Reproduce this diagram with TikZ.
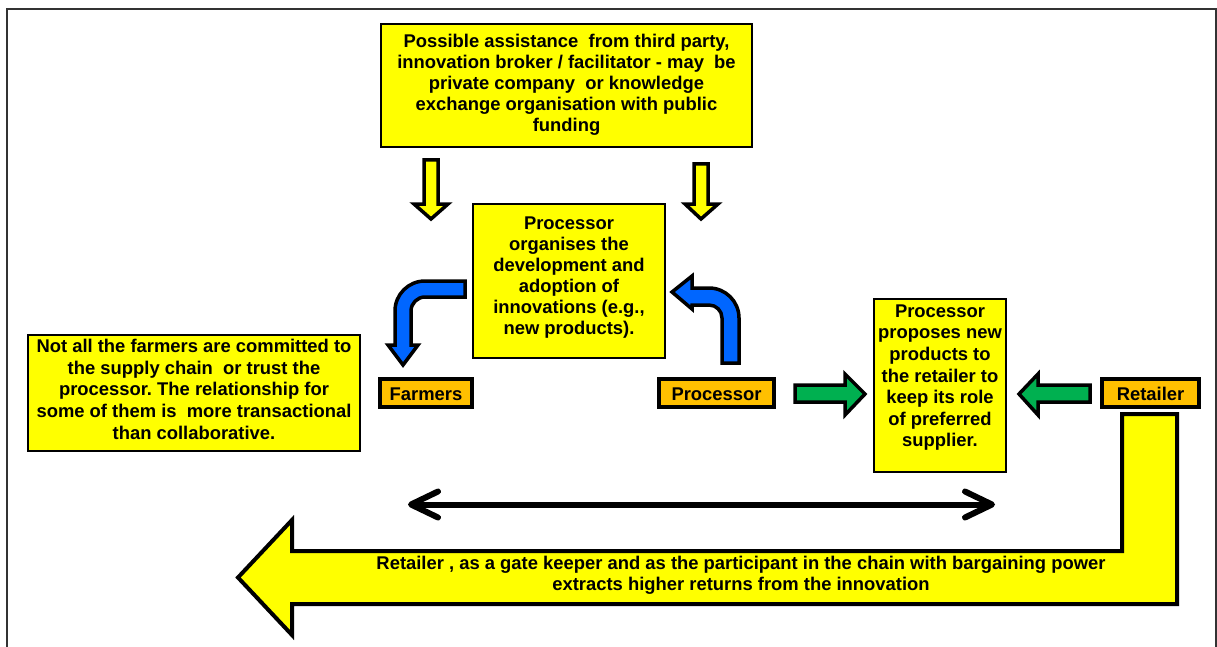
\documentclass[tikz,border=0pt]{standalone}
\usepackage{fontspec}
\setmainfont{Liberation Sans}
\usetikzlibrary{arrows.meta}
\definecolor{yfill}{HTML}{FFFF00}
\definecolor{ofill}{HTML}{FFC000}
\definecolor{bfill}{HTML}{0066FF}
\definecolor{gfill}{HTML}{00B050}
\definecolor{framec}{HTML}{333333}
\newcommand\bfs[1]{\fontsize{18.4}{#1}\selectfont\bfseries\frenchspacing}
\begin{document}
\begin{tikzpicture}[x=1pt,y=-1pt,
  thinbox/.style={draw=black,fill=yfill,line width=2pt,inner sep=0pt,outer sep=0pt},
  labelbox/.style={draw=black,fill=ofill,line width=3.8pt,inner sep=0pt,outer sep=0pt,
    font=\bfs{21.4},text height=14pt,text depth=0pt},
  txt/.style={inner sep=0pt,outer sep=0pt,align=center},
  blockarrow/.style={draw=black,line width=3.5pt,line join=miter},
  dblarrow/.style={line width=6pt,{Straight Barb[length=27pt,width=26pt,round]}-{Straight Barb[length=27pt,width=26pt,round]}}
]
\useasboundingbox (0,0) rectangle (1217,647);
% frame
\draw[framec,line width=1.5pt] (7,647) -- (7,9) -- (1216,9) -- (1216,647);

% boxes
\node[thinbox,minimum width=371pt,minimum height=123pt] (topbox) at (566.5,85.5) {};
\node[txt,font=\bfs{21.1}] (toptext) at (566.5,85.3) {\strut Possible assistance\ \ from third party,\\
innovation broker / facilitator - may\ \ be\\
private company\ \ or knowledge\\
exchange organisation with public\\
funding\strut};

\node[thinbox,minimum width=192pt,minimum height=154pt] (procbox) at (569,281) {};
\node[txt,font=\bfs{21.1}] (proctext) at (569,277.8) {\strut Processor\\
organises the\\
development and\\
adoption of\\
innovations (e.g.,\\
new products).\strut};

\node[thinbox,minimum width=132pt,minimum height=173pt] (propbox) at (940,385.5) {};
\node[txt,font=\bfs{21.6}] (proptext) at (940,377.8) {\strut Processor\\
proposes new\\
products to\\
the retailer to\\
keep its role\\
of preferred\\
supplier.\strut};

\node[thinbox,minimum width=332pt,minimum height=116pt] (notebox) at (194,393) {};
\node[txt,font=\bfs{21.6}] (notetext) at (194,391.6) {\strut Not all the farmers are committed to\\
the supply chain\ \ or trust the\\
processor. The relationship for\\
some of them is\ \ more transactional\\
than collaborative.\strut};

% labels
\node[labelbox,minimum width=92pt,minimum height=28pt] (farmers) at (426,393) {Farmers};
\node[labelbox,minimum width=115pt,minimum height=28pt] (processor) at (716.5,393) {Processor};
\node[labelbox,minimum width=97pt,minimum height=28pt] (retailer) at (1150.5,393) {Retailer};

% yellow down arrows
\draw[blockarrow,fill=yfill] (424,160) -- (438,160) -- (438,204) -- (448,204) -- (431,219) -- (414,204) -- (424,204) -- cycle;
\draw[blockarrow,fill=yfill] (694,164) -- (708,164) -- (708,204) -- (718,204) -- (701,219) -- (685,204) -- (694,204) -- cycle;

% blue curved arrows
\draw[blockarrow,fill=bfill] (465,281) -- (425,281) .. controls (408.4,281) and (395,294.4) .. (395,311)
  -- (395,345) -- (388,345) -- (403,365) -- (418,345) -- (411,345) -- (411,311)
  .. controls (411,303.3) and (417.3,297) .. (425,297) -- (465,297) -- cycle;
\draw[blockarrow,fill=bfill] (722,363) -- (722,318) .. controls (722,310.8) and (716.2,305) .. (709,305)
  -- (692,305) -- (692,309) -- (672,292) -- (692,276) -- (692,288) -- (709,288)
  .. controls (725.6,288) and (739,301.4) .. (739,318) -- (739,363) -- cycle;

% green arrows
\draw[blockarrow,fill=gfill] (795,385) -- (845,385) -- (845,374) -- (865,394) -- (845,415) -- (845,402) -- (795,402) -- cycle;
\draw[blockarrow,fill=gfill] (1090,385) -- (1038,385) -- (1038,374) -- (1019,394) -- (1038,415) -- (1038,402) -- (1090,402) -- cycle;

% double arrow
\coordinate (dblL) at (408,504.5);
\coordinate (dblR) at (995,504.5);
\draw[dblarrow] (dblL) -- (dblR);

% big yellow arrow
\draw[draw=black,line width=4pt,line join=miter,fill=yfill] (1122,414) -- (1177,414) -- (1177,604) -- (292,604) -- (292,635) -- (238,577.5) -- (292,520) -- (292,551) -- (1122,551) -- cycle;
\node[txt,font=\bfs{20.7}] (bigtext) at (741,576.2) {\strut Retailer , as a gate keeper and as the participant in the chain with bargaining power\\
extracts higher returns from the innovation\strut};
\end{tikzpicture}
\end{document}
